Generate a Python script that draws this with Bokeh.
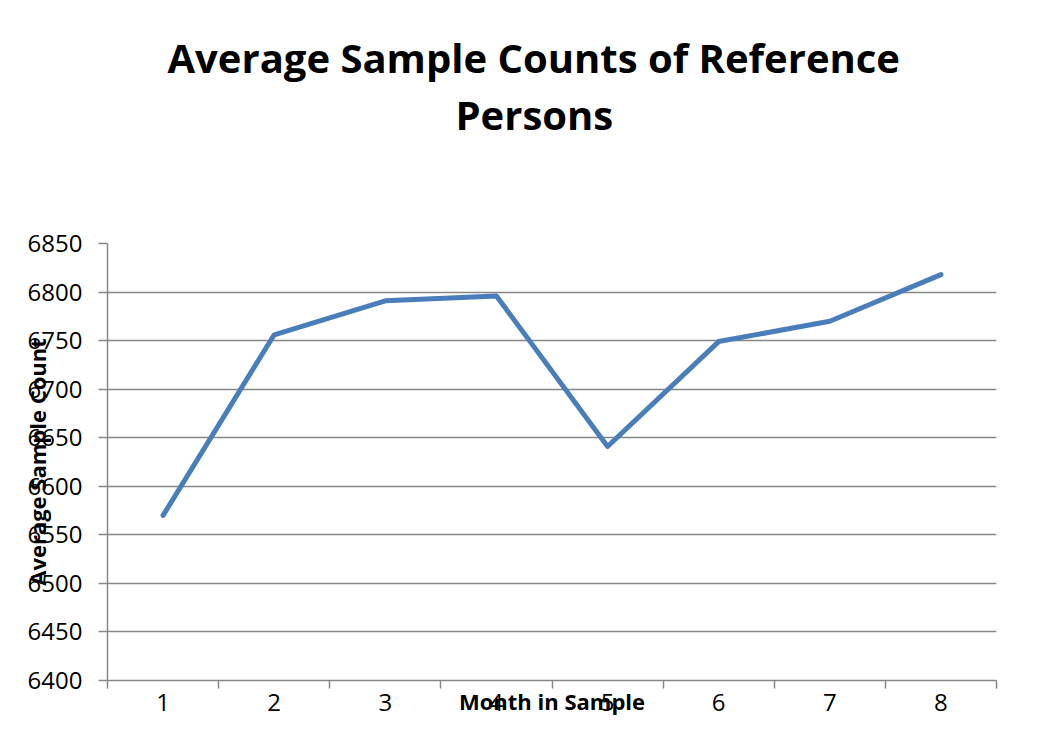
from bokeh.plotting import figure
from bokeh.models import Range1d, FixedTicker, Title
from bokeh.embed import file_html
from bokeh.resources import INLINE

months = [1, 2, 3, 4, 5, 6, 7, 8]
counts = [6570, 6756, 6791, 6796, 6641, 6749, 6770, 6818]
y_ticks = [6400, 6450, 6500, 6550, 6600, 6650, 6700, 6750, 6800, 6850]
x_ticks = [1, 2, 3, 4, 5, 6, 7, 8]
x_bounds = [0.5, 1.5, 2.5, 3.5, 4.5, 5.5, 6.5, 7.5, 8.5]
title_lines = ["Average Sample Counts of Reference", "Persons"]

FONT = "Open Sans"
GRAY = "#868686"
W, H = 1046, 718

p = figure(width=W, height=H, output_backend="svg", toolbar_location=None,
           x_range=Range1d(0.5, 8.5), y_range=Range1d(6400, 6850),
           min_border_left=107, min_border_right=50, min_border_top=243,
           min_border_bottom=37)
p.outline_line_color = None
p.background_fill_color = "white"
p.border_fill_color = "white"

p.line(months, counts, line_color="#4A7EBB", line_width=5, line_cap="round",
       line_join="round")

# x axis
xa = p.xaxis[0]
xa.ticker = FixedTicker(ticks=x_ticks, minor_ticks=x_bounds)
xa.major_tick_line_color = None
xa.major_tick_out = 0
xa.major_tick_in = 0
xa.minor_tick_out = 8
xa.minor_tick_in = 0
xa.minor_tick_line_color = GRAY
xa.minor_tick_line_width = 1.5
xa.axis_line_color = GRAY
xa.axis_line_width = 1.5
xa.major_label_text_font = FONT
xa.major_label_text_font_size = "24px"
xa.major_label_text_color = "black"
xa.major_label_standoff = 5
xa.axis_label = "Month in Sample"
xa.axis_label_text_font = FONT
xa.axis_label_text_font_size = "22px"
xa.axis_label_text_font_style = "bold"
xa.axis_label_text_color = "black"
xa.axis_label_standoff = -28

# y axis
ya = p.yaxis[0]
ya.ticker = FixedTicker(ticks=y_ticks)
ya.major_tick_out = 9
ya.major_tick_in = 0
ya.minor_tick_line_color = None
ya.major_tick_line_color = GRAY
ya.major_tick_line_width = 1.5
ya.axis_line_color = GRAY
ya.axis_line_width = 1.5
ya.major_label_text_font = FONT
ya.major_label_text_font_size = "24px"
ya.major_label_text_color = "black"
ya.major_label_standoff = 16
ya.axis_label = "Average Sample Count"
ya.axis_label_text_font = FONT
ya.axis_label_text_font_size = "22px"
ya.axis_label_text_font_style = "bold"
ya.axis_label_text_color = "black"
ya.axis_label_standoff = -27

p.xgrid.grid_line_color = None
p.ygrid.ticker = FixedTicker(ticks=y_ticks)
p.ygrid.grid_line_color = GRAY
p.ygrid.grid_line_width = 1.5

# spacer between plot frame and title block
spacer = Title(text=" ", text_font_size="1px", standoff=99)
t2 = Title(text=title_lines[1], align="left", offset=348, text_font=FONT,
           text_font_size="40px", text_font_style="bold", text_color="black",
           standoff=0)
t1 = Title(text=title_lines[0], align="left", offset=60, text_font=FONT,
           text_font_size="40px", text_font_style="bold", text_color="black",
           standoff=0)
p.add_layout(spacer, "above")
p.add_layout(t2, "above")
p.add_layout(t1, "above")

open("out.html", "w").write(file_html(p, INLINE))
